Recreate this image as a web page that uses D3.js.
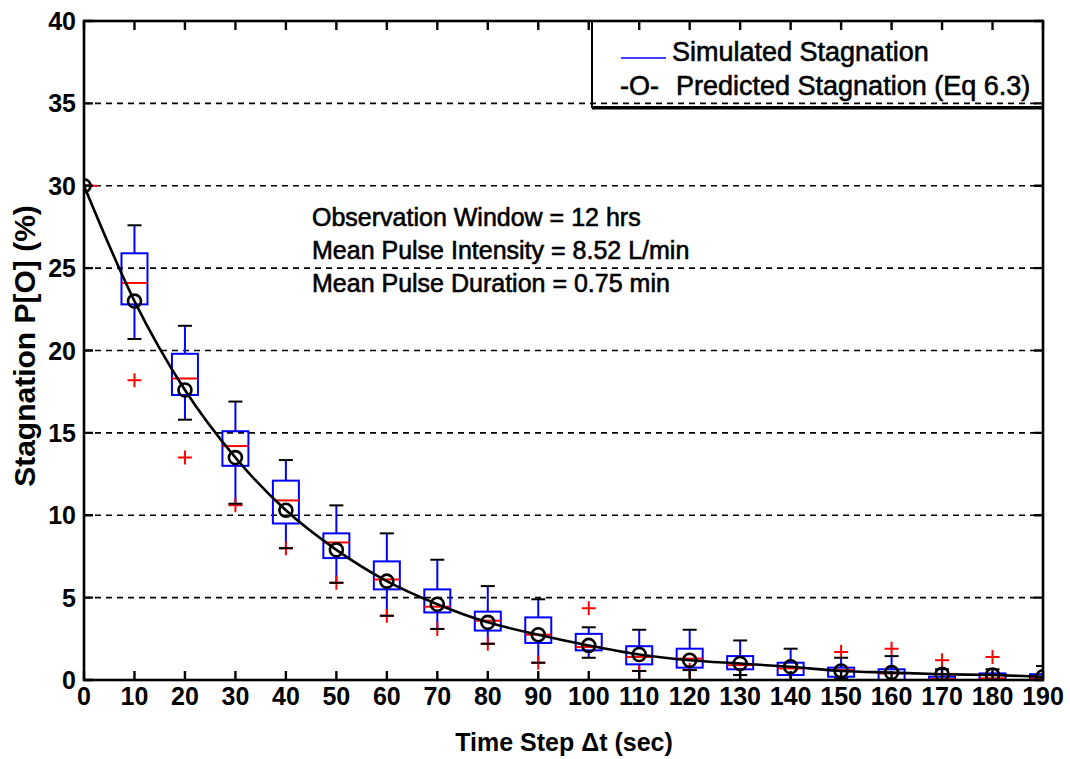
<!DOCTYPE html>
<html>
<head>
<meta charset="utf-8">
<script src="https://cdn.jsdelivr.net/npm/d3@7"></script>
<style>
  html, body { margin: 0; padding: 0; background: #fff; }
  svg { display: block; font-family: "Liberation Sans", Arial, sans-serif; }
</style>
</head>
<body>
<svg id="chart" width="1070" height="759"></svg>
<script>
// ---- data ----
const steps        = [0, 10, 20, 30, 40, 50, 60, 70, 80, 90, 100, 110, 120, 130, 140, 150, 160, 170, 180, 190];
const whiskerHigh  = [30, 27.6, 21.5, 16.9, 13.35, 10.6, 8.9, 7.3, 5.7, 4.9, 3.2, 3.05, 3.05, 2.4, 1.9, 1.35, 1.45, 0.65, 0.65, 0.85];
const q3           = [30, 25.9, 19.8, 15.1, 12.1, 8.9, 7.2, 5.5, 4.15, 3.8, 2.8, 2.05, 1.9, 1.45, 1.05, 0.75, 0.65, 0.2, 0.4, 0.35];
const medians      = [30, 24.1, 18.3, 14.2, 10.9, 8.35, 6.1, 4.45, 3.6, 2.75, 2.0, 1.4, 1.3, 0.9, 0.7, 0.6, 0.4, 0.05, 0.1, 0.1];
const q1           = [30, 22.8, 17.3, 13.0, 9.5, 7.4, 5.5, 4.1, 3.0, 2.25, 1.8, 0.95, 0.75, 0.65, 0.3, 0.2, 0.0, 0.0, 0.0, 0.0];
const whiskerLow   = [30, 20.7, 15.8, 10.7, 8.0, 5.9, 3.9, 3.1, 2.2, 1.05, 1.35, 0.55, 0.6, 0.3, 0.0, 0.1, 0.0, 0.0, 0.0, 0.0];
const outliers     = [[30], [18.2], [13.5], [10.6], [8.0], [5.9], [3.9], [3.1], [2.2], [1.05], [4.35], [0.55], [0.6], [0.3], [0.0], [1.7], [1.9], [1.2], [1.4], []];
const predicted    = [30, 23.0, 17.6, 13.5, 10.3, 7.9, 6.0, 4.6, 3.5, 2.75, 2.1, 1.55, 1.2, 1.0, 0.8, 0.55, 0.45, 0.35, 0.3, 0.2];
const xTicks       = steps;
const yTicks       = [0, 5, 10, 15, 20, 25, 30, 35, 40];
const gridTicks    = [5, 10, 15, 20, 25, 30, 35];
const annotation   = ["Observation Window = 12 hrs", "Mean Pulse Intensity = 8.52 L/min", "Mean Pulse Duration = 0.75 min"];
const legendLabels = ["Simulated Stagnation", "Predicted Stagnation (Eq 6.3)"];

// ---- layout ----
const L = 84, R = 1043, T = 21, B = 680;
const svg = d3.select("#chart");
const x = d3.scaleLinear().domain([0, 190]).range([L, R]);
const y = d3.scaleLinear().domain([0, 40]).range([B, T]);
const FS = 25;

svg.append("defs").append("clipPath").attr("id", "plotclip")
  .append("rect").attr("x", L).attr("y", T - 10).attr("width", R - L).attr("height", B - T + 10);

// grid
svg.append("g").selectAll("line").data(gridTicks).join("line")
  .attr("x1", L).attr("x2", R)
  .attr("y1", d => y(d)).attr("y2", d => y(d))
  .attr("stroke", "#000").attr("stroke-width", 1.6)
  .attr("stroke-dasharray", "6,5");

const plot = svg.append("g").attr("clip-path", "url(#plotclip)");
const boxW = 26, capW = 14, plus = 7;

const rows = steps.map((s, i) => ({s, hi: whiskerHigh[i], q3: q3[i], med: medians[i], q1: q1[i], lo: whiskerLow[i], out: outliers[i]}));

const bx = plot.append("g");
rows.forEach(r => {
  const cx = x(r.s);
  const g = bx.append("g");
  g.append("line").attr("x1", cx).attr("x2", cx).attr("y1", y(r.hi)).attr("y2", y(r.q3))
    .attr("stroke", "#0000ff").attr("stroke-width", 2);
  g.append("line").attr("x1", cx).attr("x2", cx).attr("y1", y(r.q1)).attr("y2", y(r.lo))
    .attr("stroke", "#0000ff").attr("stroke-width", 2);
  r.out.forEach(o => {
    const oy = y(o);
    g.append("path").attr("d", `M${cx - plus},${oy}H${cx + plus}M${cx},${oy - plus}V${oy + plus}`)
      .attr("stroke", "#ff0000").attr("stroke-width", 2).attr("fill", "none");
  });
  [r.hi, r.lo].forEach(v => {
    g.append("line").attr("x1", cx - capW / 2).attr("x2", cx + capW / 2)
      .attr("y1", y(v)).attr("y2", y(v))
      .attr("stroke", "#000").attr("stroke-width", 2);
  });
  g.append("rect").attr("x", cx - boxW / 2).attr("y", y(r.q3))
    .attr("width", boxW).attr("height", Math.max(0, y(r.q1) - y(r.q3)))
    .attr("fill", "none").attr("stroke", "#0000ff").attr("stroke-width", 2);
  g.append("line").attr("x1", cx - boxW / 2).attr("x2", cx + boxW / 2)
    .attr("y1", y(r.med)).attr("y2", y(r.med))
    .attr("stroke", "#ff0000").attr("stroke-width", 2);
});

// predicted curve
const line = d3.line().x((d, i) => x(steps[i])).y(d => y(d)).curve(d3.curveMonotoneX);
plot.append("path").datum(predicted).attr("d", line)
  .attr("fill", "none").attr("stroke", "#000").attr("stroke-width", 2.6);
plot.append("g").selectAll("circle").data(predicted).join("circle")
  .attr("cx", (d, i) => x(steps[i])).attr("cy", d => y(d)).attr("r", 6.5)
  .attr("fill", "none").attr("stroke", "#000").attr("stroke-width", 2.6);

// axes frame
const ax = svg.append("g");
ax.append("rect").attr("x", L).attr("y", T).attr("width", R - L).attr("height", B - T)
  .attr("fill", "none").attr("stroke", "#000").attr("stroke-width", 2.6);

const tickLen = 9;
ax.append("g").selectAll("path").data(xTicks).join("path")
  .attr("d", d => `M${x(d)},${B}V${B - tickLen}M${x(d)},${T}V${T + tickLen}`)
  .attr("stroke", "#000").attr("stroke-width", 2.4);
ax.append("g").selectAll("path").data(yTicks).join("path")
  .attr("d", d => `M${L},${y(d)}H${L + tickLen}M${R},${y(d)}H${R - tickLen}`)
  .attr("stroke", "#000").attr("stroke-width", 2.4);

// tick labels
ax.append("g").selectAll("text").data(xTicks).join("text")
  .attr("x", d => x(d)).attr("y", 705).attr("text-anchor", "middle")
  .attr("font-size", FS).attr("font-weight", "bold").text(d => d);
ax.append("g").selectAll("text").data(yTicks).join("text")
  .attr("x", 76).attr("y", d => y(d) + 9).attr("text-anchor", "end")
  .attr("font-size", FS).attr("font-weight", "bold").text(d => d);

// axis titles
svg.append("text").attr("x", 564).attr("y", 751).attr("text-anchor", "middle")
  .attr("font-size", FS).attr("font-weight", "bold").text("Time Step \u0394t (sec)");
svg.append("text").attr("transform", "translate(35,346) rotate(-90)").attr("text-anchor", "middle")
  .attr("font-size", 30).attr("font-weight", "bold").text("Stagnation P[O] (%)");

// annotation
svg.append("g").selectAll("text").data(annotation).join("text")
  .attr("x", 312).attr("y", (d, i) => 226 + i * 33)
  .attr("font-size", FS).attr("stroke", "#000").attr("stroke-width", 0.6).text(d => d);

// legend
const lg = svg.append("g");
lg.append("rect").attr("x", 592).attr("y", T).attr("width", R - 592).attr("height", 86)
  .attr("fill", "none").attr("stroke", "#000").attr("stroke-width", 2);
lg.append("line").attr("x1", 592).attr("x2", R).attr("y1", 108).attr("y2", 108)
  .attr("stroke", "#000").attr("stroke-width", 3);
lg.append("line").attr("x1", 621).attr("x2", 666).attr("y1", 58).attr("y2", 58)
  .attr("stroke", "#0000ff").attr("stroke-width", 1.5);
const lt = lg.append("g").attr("font-size", 27).attr("stroke", "#000").attr("stroke-width", 0.6);
lt.append("text").attr("x", 672).attr("y", 61).text(legendLabels[0]);
lt.append("text").attr("x", 620).attr("y", 95).text("-O-");
lt.append("text").attr("x", 676).attr("y", 95).text(legendLabels[1]);
</script>
</body>
</html>
